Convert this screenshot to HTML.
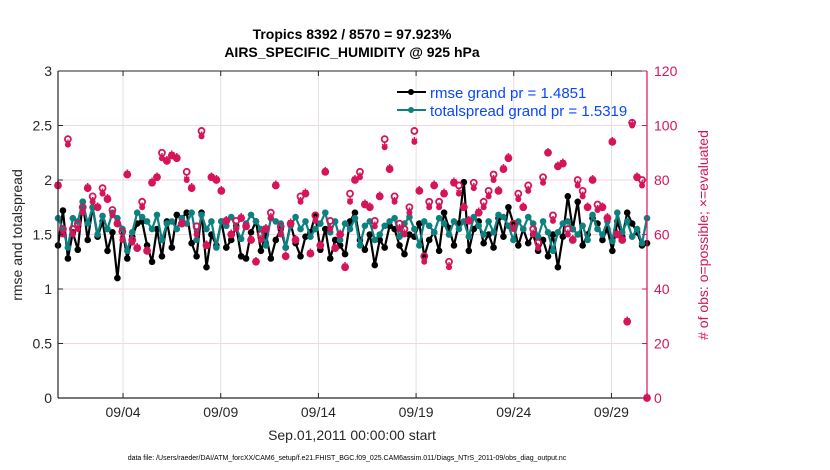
<!DOCTYPE html>
<html><head><meta charset="utf-8">
<style>
body{margin:0;background:#fff;}
svg{display:block;font-family:"Liberation Sans",Arial,sans-serif;}
</style></head>
<body>
<svg id="chart" width="830" height="470" viewBox="0 0 830 470">
  <g id="grid"></g>
  <g id="series"></g>
  <g id="axes"></g>
  <text x="352" y="39" text-anchor="middle" font-size="14" font-weight="bold">Tropics 8392 / 8570 = 97.923%</text>
  <text x="352" y="57" text-anchor="middle" font-size="14" font-weight="bold">AIRS_SPECIFIC_HUMIDITY @ 925 hPa</text>
  <text transform="translate(22,235) rotate(-90)" text-anchor="middle" font-size="14" fill="#262626">rmse and totalspread</text>
  <text transform="translate(708,235) rotate(-90)" text-anchor="middle" font-size="14" fill="#d6145a"># of obs: o=possible; ×=evaluated</text>
  <text x="352" y="440" text-anchor="middle" font-size="14" fill="#262626">Sep.01,2011 00:00:00 start</text>
  <text x="347" y="460" text-anchor="middle" font-size="7" fill="#000">data file: /Users/raeder/DAI/ATM_forcXX/CAM6_setup/f.e21.FHIST_BGC.f09_025.CAM6assim.011/Diags_NTrS_2011-09/obs_diag_output.nc</text>
  <g>
    <line x1="397" y1="92" x2="426" y2="92" stroke="#000" stroke-width="2"/>
    <circle cx="411" cy="92" r="3" fill="#000"/>
    <text x="430" y="98" font-size="15" fill="#0a46ff">rmse grand pr = 1.4851</text>
    <line x1="397" y1="110" x2="426" y2="110" stroke="#0e8080" stroke-width="2"/>
    <circle cx="411" cy="110" r="3" fill="#0e8080"/>
    <text x="430" y="116" font-size="15" fill="#0a46ff">totalspread grand pr = 1.5319</text>
  </g>
</svg>
<script>
const rmse = [1.40,1.72,1.28,1.52,1.36,1.80,1.45,1.75,1.48,1.62,
1.35,1.52,1.10,1.55,1.28,1.48,1.60,1.62,1.40,1.25,
1.55,1.30,1.62,1.38,1.68,1.65,1.70,1.42,1.30,1.70,
1.20,1.50,1.40,1.62,1.38,1.45,1.58,1.30,1.28,1.52,
1.62,1.35,1.50,1.28,1.45,1.55,1.38,1.60,1.42,1.30,
1.48,1.52,1.68,1.36,1.55,1.28,1.45,1.40,1.32,1.62,
1.70,1.45,1.36,1.50,1.22,1.45,1.38,1.58,1.55,1.40,
1.32,1.50,1.48,1.60,1.30,1.45,1.52,1.35,1.70,1.56,
1.40,1.60,1.98,1.35,1.55,1.62,1.42,1.50,1.38,1.65,
1.48,1.75,1.60,1.40,1.55,1.42,1.50,1.35,1.45,1.30,
1.50,1.20,1.48,1.85,1.55,1.80,1.40,1.50,1.65,1.60,
1.45,1.55,1.35,1.62,1.48,1.70,1.60,1.52,1.40,1.42];
const spread = [1.65,1.55,1.38,1.65,1.62,1.80,1.60,1.75,1.50,1.67,
1.55,1.70,1.65,1.55,1.35,1.52,1.70,1.66,1.62,1.55,
1.68,1.45,1.60,1.62,1.55,1.65,1.60,1.70,1.45,1.68,
1.55,1.62,1.38,1.62,1.58,1.66,1.56,1.46,1.60,1.68,
1.62,1.55,1.40,1.65,1.62,1.60,1.38,1.58,1.66,1.55,
1.62,1.48,1.55,1.60,1.70,1.52,1.62,1.45,1.60,1.55,
1.65,1.40,1.58,1.62,1.45,1.50,1.58,1.62,1.65,1.48,
1.60,1.66,1.55,1.40,1.62,1.58,1.52,1.65,1.60,1.50,
1.62,1.55,1.62,1.48,1.66,1.58,1.50,1.62,1.52,1.68,
1.66,1.58,1.45,1.62,1.55,1.66,1.60,1.48,1.62,1.52,
1.35,1.52,1.60,1.62,1.55,1.50,1.58,1.45,1.68,1.55,
1.50,1.62,1.44,1.70,1.52,1.62,1.48,1.55,1.42,1.65];
const evaluated = [78,60,93,60,62,68,77,72,70,75,
73,67,64,58,82,57,55,70,54,79,
81,88,87,89,88,64,80,77,60,96,
56,81,80,76,65,60,62,66,63,58,
50,58,62,66,78,60,52,64,58,72,
75,53,65,56,83,62,55,60,48,72,
80,81,71,70,63,74,92,84,72,62,
60,68,94,76,50,70,78,70,75,48,
79,75,70,65,77,68,70,74,80,76,
84,88,62,73,70,76,60,55,79,90,
65,85,86,60,58,78,74,70,80,69,
70,66,94,60,58,28,100,81,78,0];
const possible = [78,62,95,62,64,70,77,74,70,77,
73,69,64,61,82,58,55,72,54,79,
81,90,87,89,88,64,83,77,63,98,
56,81,80,76,65,60,65,66,63,58,
50,60,62,68,78,63,52,64,58,74,
75,53,67,56,83,65,55,60,48,75,
80,83,71,70,65,74,95,84,74,64,
62,70,98,76,52,72,78,72,75,50,
79,78,70,65,79,68,72,76,82,76,
84,88,64,75,70,78,62,57,81,90,
67,85,86,62,58,80,76,70,80,71,
70,66,94,60,58,28,101,81,80,0];
const xTickDays = [3,8,13,18,23,28];
const xTickLabels = ["09/04","09/09","09/14","09/19","09/24","09/29"];
const yLeftTicks = [0,0.5,1,1.5,2,2.5,3];
const yRightTicks = [0,20,40,60,80,100,120];

const X0=58, X1=647, Y0=398, Y1=71, DMIN=-0.33, DMAX=29.82;
const xs = d => X0 + (d-DMIN)/(DMAX-DMIN)*(X1-X0);
const tOf = (i,n) => DMIN + i*(DMAX-DMIN)/(n-1);
const yl = v => Y0 - v/3*(Y0-Y1);
const yr = v => Y0 - v/120*(Y0-Y1);
const NS='http://www.w3.org/2000/svg';
function mk(tag, attrs, parent){const e=document.createElementNS(NS,tag);for(const k in attrs)e.setAttribute(k,attrs[k]);parent.appendChild(e);return e;}
const grid=document.getElementById('grid'), ser=document.getElementById('series'), axes=document.getElementById('axes');
const RED='#d6145a';

xTickDays.forEach((d,i)=>{
  const l=mk('line',{x1:xs(d),x2:xs(d),y1:Y1,y2:Y0,stroke:'#e0e0e0','stroke-width':1},grid);
  
  
});
yRightTicks.forEach(v=>{
  const l=mk('line',{x1:X0,x2:X1,y1:yr(v),y2:yr(v),stroke:'#f6d5e2','stroke-width':1},grid);
  
  
});

function series(vals,color,name){
  const n=vals.length;
  const pts=vals.map((v,i)=>xs(tOf(i,n))+','+yl(v)).join(' ');
  const pl=mk('polyline',{points:pts,fill:'none',stroke:color,'stroke-width':2.2,'stroke-linejoin':'round'},ser);
  
  
  vals.forEach((v,i)=>{
    const c=mk('circle',{cx:xs(tOf(i,n)),cy:yl(v),r:3.3,fill:color},ser);
    
    
  });
}
series(rmse,'#000','rmse');
series(spread,'#0e8080','spread');

possible.forEach((v,i)=>{
  const c=mk('circle',{cx:xs(tOf(i,possible.length)),cy:yr(v),r:3,fill:'none',stroke:RED,'stroke-width':1.8},ser);
  
  
});
evaluated.forEach((v,i)=>{
  const x=xs(tOf(i,evaluated.length)), y=yr(v);
  const t=mk('text',{x:x,y:y+5,'text-anchor':'middle','font-size':15,'font-weight':'bold',fill:RED},ser);
  t.textContent='*';
  
  
  const c=mk('circle',{cx:x,cy:y,r:3,fill:RED},ser);
  
  
});

let a=mk('line',{x1:X0,x2:X1,y1:Y0,y2:Y0,stroke:'#262626','stroke-width':1.2},axes);
 
a=mk('line',{x1:X0,x2:X1,y1:Y1,y2:Y1,stroke:'#262626','stroke-width':1},axes);
 
a=mk('line',{x1:X0,x2:X0,y1:Y1,y2:Y0,stroke:'#262626','stroke-width':1.2},axes);
 
a=mk('line',{x1:X1,x2:X1,y1:Y1,y2:Y0,stroke:RED,'stroke-width':1.2},axes);
 
xTickDays.forEach((d,i)=>{
  const tk=mk('line',{x1:xs(d),x2:xs(d),y1:Y0,y2:Y0-5,stroke:'#262626'},axes);
   
  const tk2=mk('line',{x1:xs(d),x2:xs(d),y1:Y1,y2:Y1+5,stroke:'#262626'},axes);
   
  const t=mk('text',{x:xs(d),y:417,'text-anchor':'middle','font-size':14,fill:'#262626'},axes);
  t.textContent=xTickLabels[i];
   
});
yLeftTicks.forEach(v=>{
  const tk=mk('line',{x1:X0,x2:X0+5,y1:yl(v),y2:yl(v),stroke:'#262626'},axes);
   
  const t=mk('text',{x:X0-6,y:yl(v)+5,'text-anchor':'end','font-size':14,fill:'#262626'},axes);
  t.textContent=String(v);
   
});
yRightTicks.forEach(v=>{
  const tk=mk('line',{x1:X1-5,x2:X1,y1:yr(v),y2:yr(v),stroke:RED},axes);
   
  const t=mk('text',{x:X1+7,y:yr(v)+5,'text-anchor':'start','font-size':14,fill:RED},axes);
  t.textContent=String(v);
   
});
</script>
</body></html>
